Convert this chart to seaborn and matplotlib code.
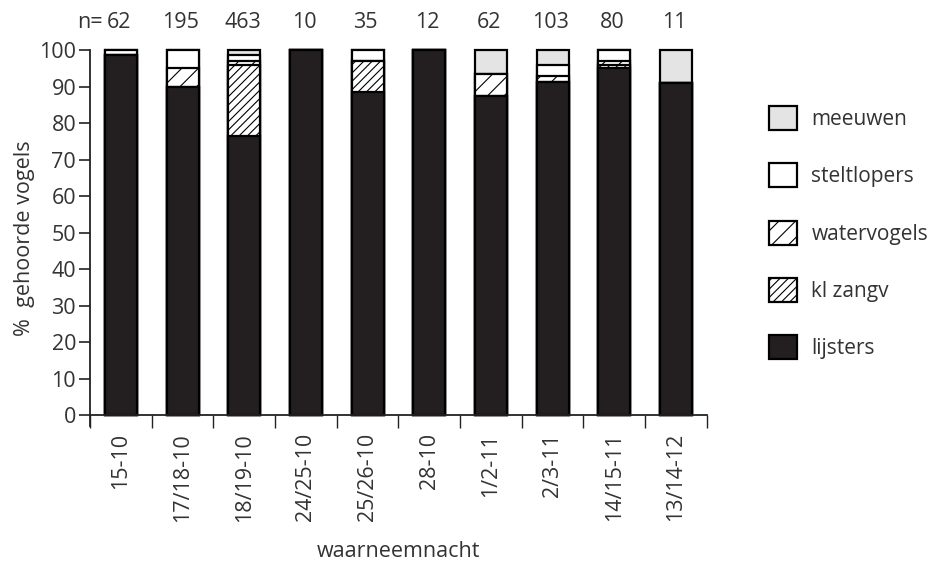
import matplotlib
matplotlib.use("Agg")
import matplotlib.pyplot as plt
from matplotlib.patches import Patch
import numpy as np
import pandas as pd
import seaborn as sns

# night labels and sample sizes
nachten = ["15-10", "17/18-10", "18/19-10", "24/25-10", "25/26-10",
           "28-10", "1/2-11", "2/3-11", "14/15-11", "13/14-12"]
n_vogels = [62, 195, 463, 10, 35, 12, 62, 103, 80, 11]

# percentages per group (stacked bottom -> top)
lijsters    = [98.5, 90.0, 76.5, 100, 88.5, 100, 87.5, 91.3, 95.0, 91.0]
kl_zangv    = [0.0,  0.0,  19.5, 0.0, 8.5,  0.0, 0.0,  0.0,  0.8,  0.0]
watervogels = [0.0,  5.0,  1.0,  0.0, 0.0,  0.0, 6.0,  1.7,  1.2,  0.0]
steltlopers = [1.5,  5.0,  1.5,  0.0, 3.0,  0.0, 0.0,  3.0,  3.0,  0.0]
meeuwen     = [0.0,  0.0,  1.5,  0.0, 0.0,  0.0, 6.5,  4.0,  0.0,  9.0]

groepen = ["lijsters", "kl zangv", "watervogels", "steltlopers", "meeuwen"]
kleuren = {"lijsters": "#231f20", "kl zangv": "white", "watervogels": "white",
           "steltlopers": "white", "meeuwen": "#e4e4e4"}
arceer = {"lijsters": "", "kl zangv": "////", "watervogels": "//",
          "steltlopers": "", "meeuwen": ""}

sns.set_style("ticks")
plt.rcParams["font.family"] = ["Open Sans", "DejaVu Sans"]
plt.rcParams["hatch.linewidth"] = 0.8
tekst = "#333333"
fs = 15.5

df = pd.DataFrame({"nacht": nachten, "lijsters": lijsters, "kl zangv": kl_zangv,
                   "watervogels": watervogels, "steltlopers": steltlopers,
                   "meeuwen": meeuwen})

fig = plt.figure(figsize=(9.35, 5.65), dpi=100)
ax = fig.add_axes([0.0963, 0.246, 0.6597, 0.6655])

# draw cumulative totals from the top layer down so each layer covers the next
cum = df[groepen].cumsum(axis=1)
for g in reversed(groepen):
    sns.barplot(x=df["nacht"], y=cum[g], order=nachten, color=kleuren[g],
                saturation=1, width=0.52, edgecolor="black",
                linewidth=1.6, hatch=arceer[g], ax=ax)
for p in ax.patches:
    p.set_clip_on(False)

ax.set_ylim(-3, 100)
ax.set_xlim(-0.5, 9.5)
ax.spines["bottom"].set_position(("data", 0))
ax.spines["right"].set_visible(False)
ax.spines["top"].set_visible(False)
for s in ["left", "bottom"]:
    ax.spines[s].set_linewidth(1.3)
    ax.spines[s].set_color("#222222")

ax.set_yticks(np.arange(0, 101, 10))
ax.tick_params(axis="y", length=8, width=1.2, labelsize=fs, labelcolor=tekst,
               pad=2, color="#222222")
ax.set_xticks(range(len(nachten)))
ax.set_xticklabels(nachten, rotation=90)
ax.set_xticks(np.arange(-0.5, 10, 1), minor=True)
ax.tick_params(axis="x", which="major", length=0, pad=13, labelsize=fs,
               labelcolor=tekst)
ax.tick_params(axis="x", which="minor", length=9, width=1.0, color="#222222")
ax.set_xlabel("waarneemnacht", fontsize=fs, color=tekst, labelpad=14)
ax.set_ylabel("%  gehoorde vogels", fontsize=fs, color=tekst, labelpad=3)

# sample sizes above the bars
for i, n in enumerate(n_vogels):
    ax.text(i - 0.03, 107.5, str(n), ha="center", va="center", fontsize=fs,
            color=tekst, clip_on=False)
ax.text(-0.3, 107.5, "n=", ha="right", va="center", fontsize=fs,
        color=tekst, clip_on=False)

handles = [Patch(facecolor=kleuren[g], edgecolor="black", linewidth=1.6,
                 hatch=arceer[g], label=g) for g in reversed(groepen)]
fig.legend(handles=handles, loc="upper left", bbox_to_anchor=(0.802, 0.846),
           frameon=False, fontsize=15, handlelength=1.35, handleheight=1.4,
           labelspacing=1.6, handletextpad=0.7, labelcolor=tekst)

fig.savefig("out.png", dpi=100)
